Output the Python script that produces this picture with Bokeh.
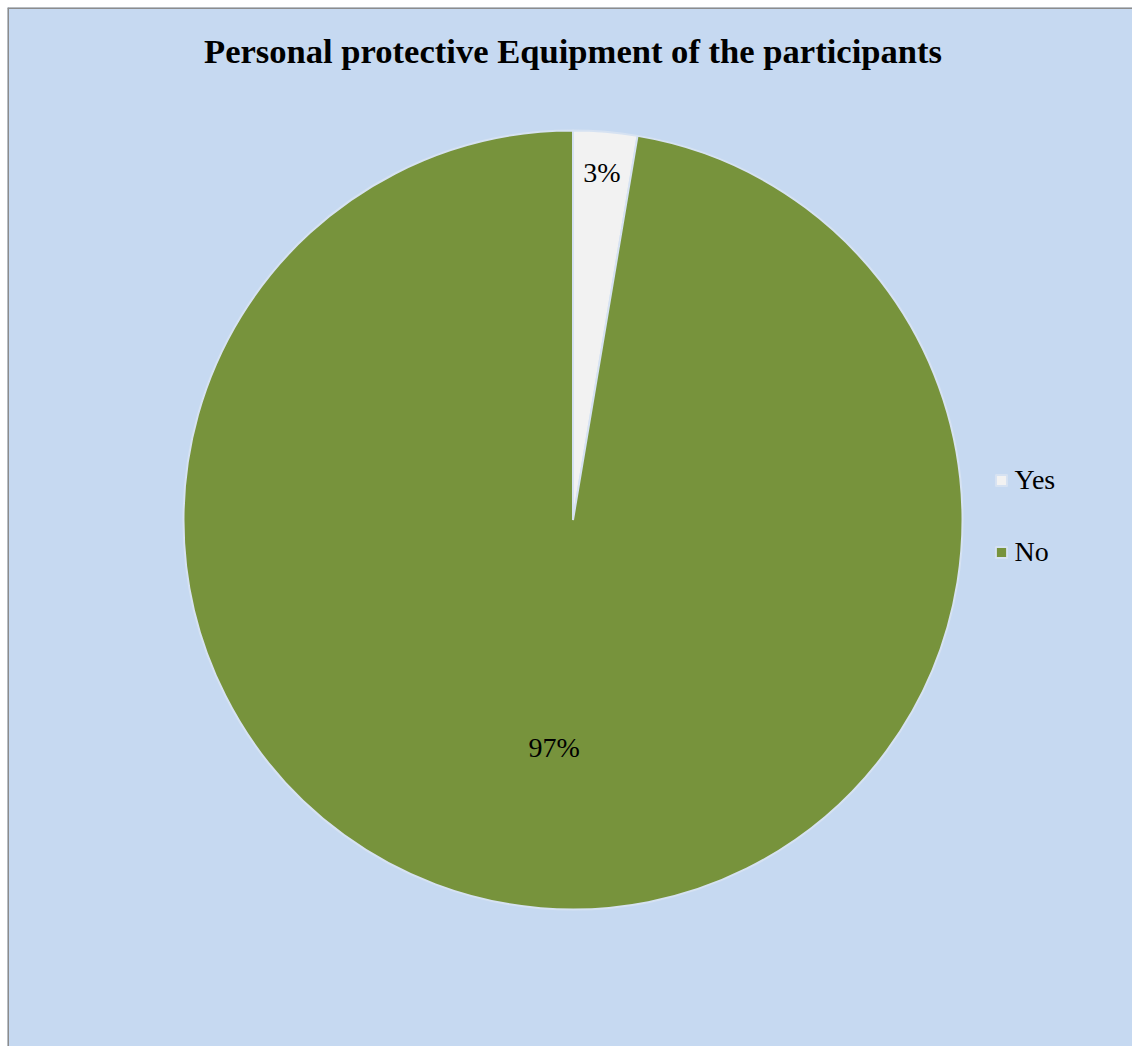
import numpy as np
from bokeh.plotting import figure
from bokeh.models import Range1d, Span, Legend, LegendItem
from bokeh.core.properties import value
from bokeh.embed import file_html
from bokeh.resources import INLINE

# ---- data ----
categories = ["Yes", "No"]
shares = [2.65, 97.35]
labels = ["3%", "97%"]
colors = ["#F2F2F2", "#77933C"]
title_text = "Personal protective Equipment of the participants"

W, H = 1132, 1046
BG = "#C6D9F1"
FONT = "'Liberation Serif', 'Times New Roman', serif"

p = figure(width=W, height=H, output_backend="svg", toolbar_location=None,
           x_range=Range1d(7, W), y_range=Range1d(0, H - 7),
           min_border_left=7, min_border_top=7, min_border_right=0, min_border_bottom=0,
           background_fill_color=BG, border_fill_color="white")
p.axis.visible = False
p.grid.visible = False
p.outline_line_color = None

# frame edges (left & top only visible)
p.add_layout(Span(location=7.5, dimension="height", line_color="#8C8C8C", line_width=2))
p.add_layout(Span(location=H - 7.5, dimension="width", line_color="#8C8C8C", line_width=2))

cx, cy, R = 572.5, H - 519.5, 389.5
fr = np.array(shares) / sum(shares)
ends = np.cumsum(fr)
starts = ends - fr
start_ang = np.pi / 2 - starts * 2 * np.pi
end_ang = np.pi / 2 - ends * 2 * np.pi
renderers = []
for i in range(len(categories)):
    r = p.wedge(x=cx, y=cy, radius=R, start_angle=start_ang[i], end_angle=end_ang[i],
                direction="clock", fill_color=colors[i], line_color="#D6E2F2", line_width=2)
    renderers.append(r)

# data labels
mid = (start_ang + end_ang) / 2
rfrac = np.array([0.895, 0.585])
lx = cx + R * rfrac * np.cos(mid)
ly = cy + R * rfrac * np.sin(mid)
p.text(x=lx, y=ly, text=labels, text_align="center", text_baseline="middle",
       text_font=value(FONT), text_font_size="28px", text_color="black")

# title
p.text(x=[cx], y=[H - 50], text=[title_text], text_align="center", text_baseline="middle",
       text_font=value(FONT), text_font_size="34.6px", text_font_style="bold", text_color="black")

legend = Legend(items=[LegendItem(label=categories[i], renderers=[renderers[i]]) for i in range(len(categories))],
                location=(986.5, 478), orientation="vertical",
                glyph_width=14, glyph_height=14, label_standoff=7,
                label_text_font=FONT, label_text_font_size="28px", label_text_color="black",
                spacing=40, padding=0, margin=0,
                background_fill_alpha=0, border_line_color=None)
p.add_layout(legend)

open("out.html", "w").write(file_html(p, INLINE))
